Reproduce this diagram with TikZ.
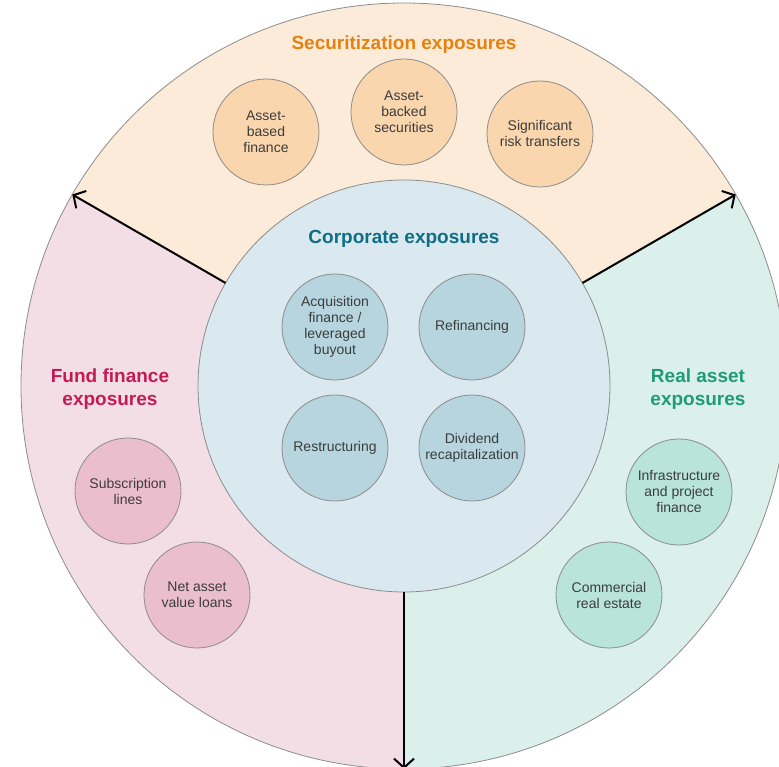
\documentclass[tikz,border=0pt]{standalone}
\usepackage{fontspec}
\setmainfont{Liberation Sans}
\usepackage{tikz}
\usetikzlibrary{arrows.meta}

\definecolor{secfill}{HTML}{FCEBD8}
\definecolor{secball}{HTML}{FAD6AE}
\definecolor{sectext}{HTML}{E5820F}
\definecolor{corpfill}{HTML}{DAE9EF}
\definecolor{corpball}{HTML}{B7D5DE}
\definecolor{corptext}{HTML}{0F6E84}
\definecolor{fundfill}{HTML}{F4DEE6}
\definecolor{fundball}{HTML}{EBBECD}
\definecolor{fundtext}{HTML}{C41B55}
\definecolor{realfill}{HTML}{DBF0EA}
\definecolor{realball}{HTML}{B9E4D8}
\definecolor{realtext}{HTML}{1F9C74}
\definecolor{rim}{HTML}{8C8C8C}
\definecolor{label}{HTML}{3C3C3C}

\begin{document}
\begin{tikzpicture}[x = 1pt, y = 1pt,
		ball/.style = {circle, draw = rim, line width = 0.8pt, minimum size = 106pt, inner sep = 0pt, align = center, text = label, font = \fontsize{14}{16}\selectfont},
		heading/.style = {align = center, font = \fontsize{19}{23}\selectfont\bfseries},
		spoke/.style = {line width = 2pt, -{Straight Barb[length = 9pt, width = 20pt]}}]

					\useasboundingbox (-404,-381) rectangle (375,386);

					\coordinate (hub) at (0,0);

					\begin{scope}
						\fill [secfill] (hub) -- (30:383) arc [start angle = 30, end angle = 150, radius = 383] -- cycle;
						\fill [fundfill] (hub) -- (150:383) arc [start angle = 150, end angle = 270, radius = 383] -- cycle;
						\fill [realfill] (hub) -- (270:383) arc [start angle = 270, end angle = 390, radius = 383] -- cycle;
						\draw [rim, line width = 0.8pt] (hub) circle [radius = 383];
						\filldraw [draw = rim, fill = corpfill, line width = 0.8pt] (hub) circle [radius = 206];
					\end{scope}

					\begin{scope}
						\foreach \a/\n in {150/west, 30/east, 270/south}
						{
							\coordinate (\n-in) at (\a:206);
							\coordinate (\n-out) at (\a:383);
							\draw [spoke] (\n-in) -- (\n-out);
						}
					\end{scope}

					\begin{scope}
						\node [heading, text = sectext] (sec) at (0,341) {Securitization exposures};
						\node [heading, text = corptext] (corp) at (0,147) {Corporate exposures};
						\node [heading, text = fundtext] (fund) at (-294,-3.5) {Fund finance\\exposures};
						\node [heading, text = realtext] (real) at (294,-3.5) {Real asset\\exposures};
					\end{scope}

					\begin{scope}
						\node [ball, fill = secball] (abf) at (-138,254) {Asset-\\based\\finance};
						\node [ball, fill = secball] (abs) at (0,274) {Asset-\\backed\\securities};
						\node [ball, fill = secball] (srt) at (136,252) {Significant\\risk transfers};
					\end{scope}

					\begin{scope}
						\node [ball, fill = corpball] (lbo) at (-69,59) {Acquisition\\finance /\\leveraged\\buyout};
						\node [ball, fill = corpball] (refi) at (68,59) {Refinancing};
						\node [ball, fill = corpball] (restr) at (-69,-62) {Restructuring};
						\node [ball, fill = corpball] (recap) at (68,-62) {Dividend\\recapitalization};
					\end{scope}

					\begin{scope}
						\node [ball, fill = fundball] (subl) at (-276,-105) {Subscription\\lines};
						\node [ball, fill = fundball] (nav) at (-207,-209) {Net asset\\value loans};
					\end{scope}

					\begin{scope}
						\node [ball, fill = realball] (infra) at (275,-106) {Infrastructure\\and project\\finance};
						\node [ball, fill = realball] (cre) at (205,-209) {Commercial\\real estate};
					\end{scope}
				\end{tikzpicture}
\end{document}
